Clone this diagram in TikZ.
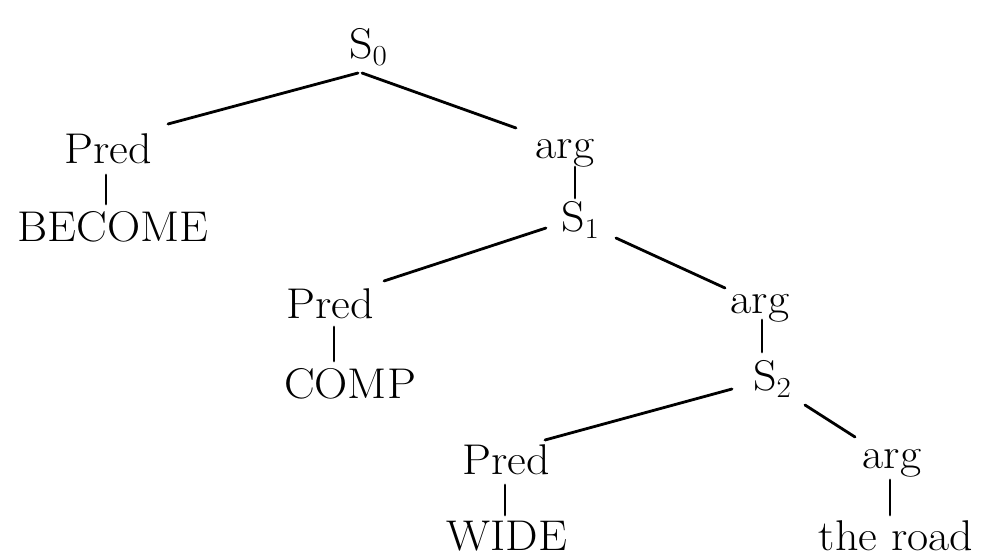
\documentclass[tikz,border=0pt]{standalone}
\usepackage{fontspec}
\usetikzlibrary{calc}
\newcommand{\sub}[1]{\raisebox{-0.17em}{\fontsize{29}{30}\selectfont #1}}
\tikzset{
  lbl/.style={anchor=base, inner sep=0pt, xscale=1.07, transform shape, font=\fontsize{43}{50}\selectfont},
  edge/.style={line width=2.8pt, line cap=round}
}
\begin{document}
\begin{tikzpicture}[x=1pt, y=-1pt]
\useasboundingbox (0,0) rectangle (983,557);
\node[lbl] (S0) at (368,58) {S\sub{0}};
\node[lbl] (P1) at (108,163) {Pred};
\node[lbl] (W1) at (113,241) {BECOME};
\node[lbl] (A1) at (565,158) {arg};
\node[lbl] (S1) at (580,231) {S\sub{1}};
\node[lbl] (P2) at (330,318) {Pred};
\node[lbl] (W2) at (350,398) {COMP};
\node[lbl] (A2) at (760,313) {arg};
\node[lbl] (S2) at (772,390) {S\sub{2}};
\node[lbl] (P3) at (506,474) {Pred};
\node[lbl] (A3) at (892,468) {arg};
\node[lbl] (W3) at (507,550) {WIDE};
\node[lbl] (W4) at (896,550) {the road};
\draw[edge] ($(S0.base)+(-10,15)$) -- ($(P1.base)+(60,-39)$);
\draw[edge] ($(S0.base)+(-6,15)$) -- ($(A1.base)+(-49,-30)$);
\draw[edge] ($(P1.base)+(-2,12)$) -- ($(W1.base)+(-7,-37)$);
\draw[edge] ($(A1.base)+(10,9)$) -- ($(S1.base)+(-5,-33)$);
\draw[edge] ($(S1.base)+(-34,-3)$) -- ($(P2.base)+(54,-37)$);
\draw[edge] ($(S1.base)+(36,7)$) -- ($(A2.base)+(-35,-25)$);
\draw[edge] ($(P2.base)+(4,9)$) -- ($(W2.base)+(-16,-37)$);
\draw[edge] ($(A2.base)+(2,7)$) -- ($(S2.base)+(-10,-38)$);
\draw[edge] ($(S2.base)+(-40,-1)$) -- ($(P3.base)+(39,-34)$);
\draw[edge] ($(S2.base)+(33,15)$) -- ($(A3.base)+(-37,-31)$);
\draw[edge] ($(P3.base)+(-1,11)$) -- ($(W3.base)+(-2,-35)$);
\draw[edge] ($(A3.base)+(-2,12)$) -- ($(W4.base)+(-6,-35)$);
\end{tikzpicture}
\end{document}
